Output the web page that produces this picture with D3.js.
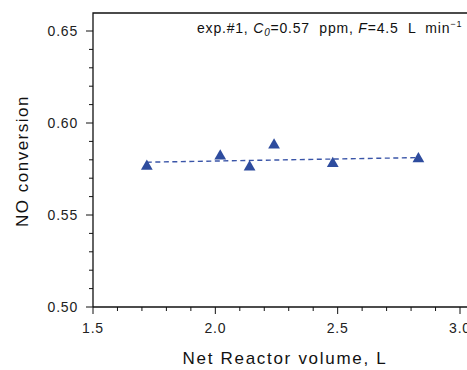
<!DOCTYPE html>
<html><head><meta charset="utf-8">
<script src="https://cdn.jsdelivr.net/npm/d3@7"></script>
<style>
body{margin:0;background:#fff;}
svg{display:block;font-family:"Liberation Sans",Arial,sans-serif;}
text{white-space:pre;}
</style></head>
<body>
<svg id="c" width="467" height="370"></svg>
<script>
const volumes = [1.72, 2.02, 2.14, 2.24, 2.48, 2.83];
const conversion = [0.5765, 0.582, 0.576, 0.588, 0.578, 0.5805];
const fitX = [1.72, 2.83];
const fitY = [0.5787, 0.5812];
const xTicks = [1.5, 2.0, 2.5, 3.0];
const yTicks = [0.50, 0.55, 0.60, 0.65];

const svg = d3.select("#c");
const x = d3.scaleLinear().domain([1.5, 3.0]).range([93, 460]);
const y = d3.scaleLinear().domain([0.50, 0.65]).range([307, 31]);
const yTop = 13, xRight = 480;

// frame
svg.append("path").attr("d", `M${x(1.5)},${y(0.5)} L${x(1.5)},${yTop} L${xRight},${yTop}`)
  .attr("fill","none").attr("stroke","#111").attr("stroke-width",1.3);
svg.append("line").attr("x1",x(1.5)).attr("x2",xRight).attr("y1",y(0.5)).attr("y2",y(0.5))
  .attr("stroke","#111").attr("stroke-width",1.3);

// x axis
const xMinor = d3.range(15, 31).map(d => d/10);
const gx = svg.append("g").attr("transform",`translate(0,${y(0.5)})`);
gx.selectAll("line.mi").data(xMinor).join("line")
  .attr("x1",d=>x(d)).attr("x2",d=>x(d)).attr("y1",0).attr("y2",d=>xTicks.some(t=>Math.abs(t-d)<1e-9)?7:4)
  .attr("stroke","#111").attr("stroke-width",1);
gx.selectAll("text").data(xTicks).join("text")
  .attr("x",d=>x(d)).attr("y",26).attr("text-anchor","middle")
  .attr("font-size",14).attr("letter-spacing",0.8).attr("fill","#222").text(d=>d.toFixed(1));

// y axis
const yMinor = d3.range(50, 66).map(d => d/100);
const gy = svg.append("g").attr("transform",`translate(${x(1.5)},0)`);
gy.selectAll("line").data(yMinor).join("line")
  .attr("y1",d=>y(d)).attr("y2",d=>y(d)).attr("x1",0).attr("x2",d=>yTicks.some(t=>Math.abs(t-d)<1e-9)?-7:-4)
  .attr("stroke","#111").attr("stroke-width",1);
gy.selectAll("text").data(yTicks).join("text")
  .attr("x",-15).attr("y",d=>y(d)).attr("dy","0.36em").attr("text-anchor","end")
  .attr("font-size",14).attr("letter-spacing",0.8).attr("fill","#222").text(d=>d.toFixed(2));

// axis titles
svg.append("text").attr("x",285).attr("y",364).attr("text-anchor","middle")
  .attr("font-size",17).attr("letter-spacing",1.7).attr("fill","#111").text("Net Reactor volume, L");
svg.append("text").attr("transform",`translate(28,${161}) rotate(-90)`).attr("text-anchor","middle")
  .attr("font-size",17).attr("letter-spacing",1.5).attr("fill","#111").text("NO conversion");

// annotation
const ann = svg.append("text").attr("x",197).attr("y",33).attr("font-size",14).attr("fill","#111").attr("letter-spacing",0.8);
ann.append("tspan").text("exp.#1, ");
ann.append("tspan").attr("font-style","italic").text("C");
ann.append("tspan").attr("font-style","italic").attr("font-size",10).attr("dy",3).text("0");
ann.append("tspan").attr("dy",-3).text("=0.57  ppm, ");
ann.append("tspan").attr("font-style","italic").text("F");
ann.append("tspan").text("=4.5  L  min");
ann.append("tspan").attr("font-size",9).attr("dy",-6).text("−1");

// fit line
svg.append("path").datum(fitX.map((d,i)=>[d,fitY[i]]))
  .attr("d", d3.line().x(d=>x(d[0])).y(d=>y(d[1])))
  .attr("fill","none").attr("stroke","#3a55a8").attr("stroke-width",1.4).attr("stroke-dasharray","5,3.5");

// points
const tri = d3.symbol().type(d3.symbolTriangle).size(60);
svg.selectAll("path.pt").data(volumes.map((d,i)=>[d,conversion[i]])).join("path")
  .attr("class","pt").attr("d",tri)
  .attr("transform",d=>`translate(${x(d[0])},${y(d[1])})`)
  .attr("fill","#2e4c9e");
</script>
</body></html>
